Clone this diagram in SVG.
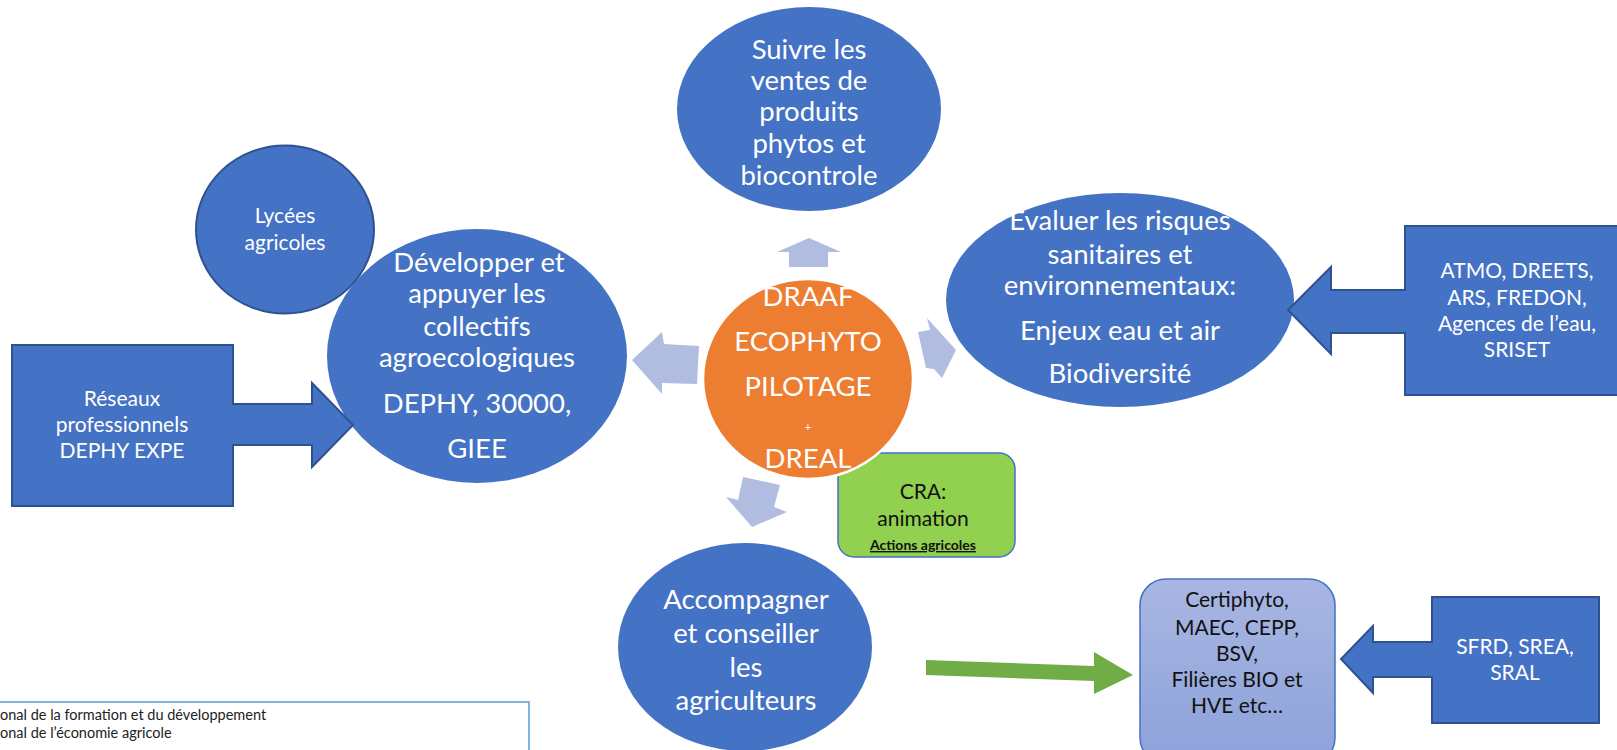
<svg xmlns="http://www.w3.org/2000/svg" width="1617" height="750" viewBox="0 0 1617 750">
<defs>
<style>
text{font-family:Lato,"Liberation Sans",sans-serif;text-anchor:middle}
.big{fill:#4472C4}
.big-t{fill:#fff;font-size:27.5px}
.mid-t{fill:#fff;font-size:21px}
.dark-t{fill:#111;font-size:21px}
.callout{fill:#4472C4;stroke:#2F528F;stroke-width:2}
.flow{fill:#B0BDE1}
</style>
<linearGradient id="lg" x1="0" y1="0" x2="0" y2="1">
<stop offset="0" stop-color="#A9B6E2"/>
<stop offset="1" stop-color="#8CA2DA"/>
</linearGradient>
</defs>
<rect width="1617" height="750" fill="#fff"/>

<g id="connectors">
<polygon class="flow" points="809,238 841,252 828,252 828,267 789,267 789,252 777,252"/>
<polygon class="flow" points="632,360 662,332 664,344 699,346 697,384 662,383 662,394"/>
<polygon class="flow" points="918,332 930,330 927,318 956,350 942,378 934,369 926,368"/>
<polygon class="flow" points="743,477 780,485 774,507 787,512 752,527 726,497 738,500"/>
<polygon fill="#70AD47" points="926,660 1094,666 1094,652 1133,675 1094,694 1094,681 926,675"/>
</g>

<g id="n-suivre">
<ellipse class="big" cx="809" cy="109" rx="132" ry="102"/>
<text class="big-t"><tspan x="809" y="59">Suivre les</tspan><tspan x="809" y="90">ventes de</tspan><tspan x="809" y="121">produits</tspan><tspan x="809" y="153">phytos et</tspan><tspan x="809" y="185">biocontrole</tspan></text>
</g>

<g id="n-evaluer">
<ellipse class="big" cx="1120" cy="300" rx="174" ry="107"/>
<text class="big-t"><tspan x="1120" y="230">Evaluer les risques</tspan><tspan x="1120" y="264">sanitaires et</tspan><tspan x="1120" y="295">environnementaux:</tspan><tspan x="1120" y="340">Enjeux eau et air</tspan><tspan x="1120" y="383">Biodiversité</tspan></text>
</g>

<g id="n-developper">
<ellipse class="big" cx="477" cy="356" rx="150" ry="127"/>
<text class="big-t"><tspan x="479" y="272">Développer et</tspan><tspan x="477" y="303">appuyer les</tspan><tspan x="477" y="336">collectifs</tspan><tspan x="477" y="367">agroecologiques</tspan><tspan x="477" y="413">DEPHY, 30000,</tspan><tspan x="477" y="458">GIEE</tspan></text>
</g>

<g id="n-accompagner">
<ellipse class="big" cx="745" cy="647" rx="127" ry="104"/>
<text class="big-t"><tspan x="746" y="609">Accompagner</tspan><tspan x="746" y="643">et conseiller</tspan><tspan x="746" y="677">les</tspan><tspan x="746" y="710">agriculteurs</tspan></text>
</g>

<g id="n-lycees">
<ellipse class="callout" cx="285" cy="229.5" rx="89" ry="84"/>
<text class="mid-t"><tspan x="285" y="223">Lycées</tspan><tspan x="285" y="250">agricoles</tspan></text>
</g>

<g id="n-reseaux">
<path class="callout" d="M12,345 H233 V404 H312 V383 L353,425 L312,467 V445 H233 V506 H12 Z"/>
<text class="mid-t"><tspan x="122" y="406">Réseaux</tspan><tspan x="122" y="432">professionnels</tspan><tspan x="122" y="458">DEPHY EXPE</tspan></text>
</g>

<g id="n-atmo">
<path class="callout" d="M1405,226 H1622 V395 H1405 V333 H1331 V354 L1288,310 L1331,267 V290 H1405 Z"/>
<text class="mid-t"><tspan x="1517" y="278">ATMO, DREETS,</tspan><tspan x="1517" y="305">ARS, FREDON,</tspan><tspan x="1517" y="331">Agences de l’eau,</tspan><tspan x="1517" y="357">SRISET</tspan></text>
</g>

<g id="n-sfrd">
<path class="callout" d="M1432,597 H1599 V723 H1432 V677 H1373 V693 L1341,659 L1373,626 V642 H1432 Z"/>
<text class="mid-t"><tspan x="1515" y="654">SFRD, SREA,</tspan><tspan x="1515" y="680">SRAL</tspan></text>
</g>

<g id="n-certiphyto">
<rect x="1140" y="579" width="195" height="185" rx="26" fill="url(#lg)" stroke="#4472C4" stroke-width="1.5"/>
<text class="dark-t"><tspan x="1237" y="607">Certiphyto,</tspan><tspan x="1237" y="635">MAEC, CEPP,</tspan><tspan x="1237" y="661">BSV,</tspan><tspan x="1237" y="687">Filières BIO et</tspan><tspan x="1237" y="713">HVE etc…</tspan></text>
</g>

<g id="n-cra">
<rect x="838" y="453" width="177" height="104" rx="16" fill="#92D050" stroke="#4472C4" stroke-width="1.5"/>
<text class="dark-t"><tspan x="923" y="499">CRA:</tspan><tspan x="923" y="526">animation</tspan></text>
<text x="923" y="550" style="font-size:14px;font-weight:bold;fill:#111;text-decoration:underline">Actions agricoles</text>
</g>

<g id="n-center">
<ellipse cx="808" cy="379" rx="105" ry="100" fill="#ED7D31" stroke="#fff" stroke-width="2.5"/>
<text class="big-t"><tspan x="808" y="306">DRAAF</tspan><tspan x="808" y="351">ECOPHYTO</tspan><tspan x="808" y="396">PILOTAGE</tspan><tspan x="808" y="431" style="font-size:11px">+</tspan><tspan x="808" y="468">DREAL</tspan></text>
</g>

<g id="legend">
<rect x="-5" y="702" width="534" height="60" fill="#fff" stroke="#5B9BD5" stroke-width="1.5"/>
<text style="font-size:14.5px;fill:#222;text-anchor:start"><tspan x="0" y="720">onal de la formation et du développement</tspan><tspan x="0" y="738">onal de l’économie agricole</tspan></text>
</g>
</svg>
